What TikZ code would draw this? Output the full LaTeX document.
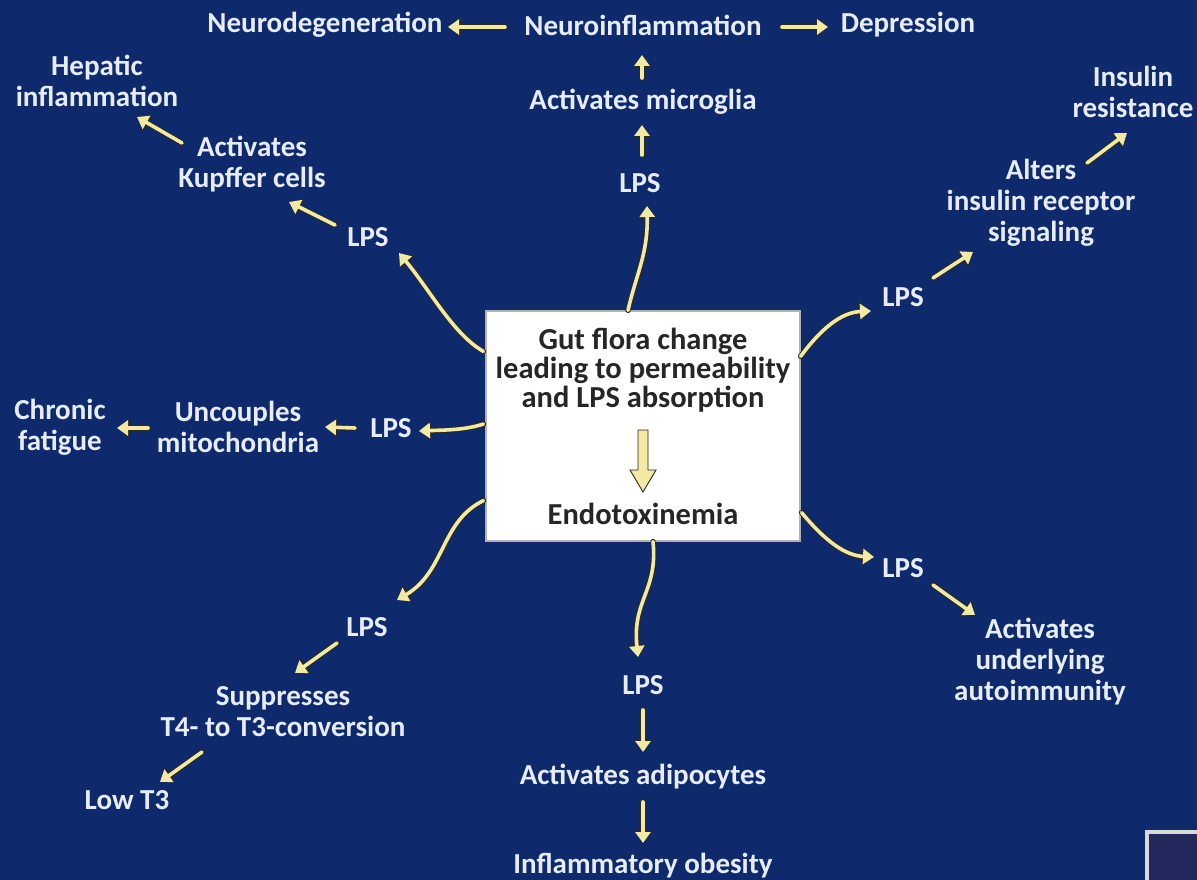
\documentclass[tikz,border=0pt]{standalone}
\usepackage{fontspec}
\setmainfont{Carlito}
\usetikzlibrary{arrows.meta,calc}

\definecolor{bgblue}{RGB}{15,42,108}
\definecolor{lbltext}{RGB}{230,237,248}
\definecolor{arrowfill}{RGB}{242,234,162}
\definecolor{arrowedge}{RGB}{45,42,30}
\definecolor{cornerfill}{RGB}{34,40,92}

\tikzset{
  lbl/.style={text=lbltext, font=\fontsize{29}{31}\selectfont\bfseries, align=center, inner sep=1pt},
  boxtext/.style={text=black!85, font=\fontsize{30.5}{29}\selectfont\bfseries, align=center, inner sep=1pt},
  flow/.style={draw=arrowfill, line width=3.6pt, line cap=round,
    -{Triangle[length=11pt,width=15pt]},
    preaction={draw=arrowedge, line width=5.4pt, line cap=round,
      -{Triangle[length=12.5pt,width=18pt]}}},
  mainbox/.style={draw=black!30, line width=1.2pt, fill=white,
    minimum width=314pt, minimum height=230pt, inner sep=0pt}
}

\begin{document}
\begin{tikzpicture}[x=1pt,y=-1pt]
  % canvas
  \fill[bgblue] (0,0) rectangle (1197,880);
  \useasboundingbox (0,0) rectangle (1197,880);
  \draw[draw=white!85!black, fill=cornerfill, line width=4pt] (1147,832) rectangle (1215,900);

  % central box
  \node[mainbox] (box) at (643,426) {};
  \node[boxtext] (gut) at (643,370) {Gut flora change\\leading to permeability\\and LPS absorption};
  \node[boxtext] (endo) at (643,514) {Endotoxinemia};
  \draw[draw=arrowedge, fill=arrowfill, line width=0.9pt, line join=miter]
    ($(gut)+(-5,60)$) -- ($(gut)+(5,60)$) -- ($(gut)+(5,100)$) -- ($(gut)+(13,100)$)
    -- ($(gut)+(0,122)$) -- ($(gut)+(-13,100)$) -- ($(gut)+(-5,100)$) -- cycle;

  % labels
  \node[lbl] (neurodeg) at (325,25) {Neurodegeneration};
  \node[lbl] (neuroinf) at (643,25) {Neuroinflammation};
  \node[lbl] (depr) at (908,25) {Depression};
  \node[lbl] (micro) at (643,102) {Activates microglia};
  \node[lbl] (lpsN) at (640,183) {LPS};

  \node[lbl] (hep) at (97,81) {Hepatic\\inflammation};
  \node[lbl] (kup) at (252,164) {Activates\\Kupffer cells};
  \node[lbl] (lpsNW) at (368,237) {LPS};

  \node[lbl] (chronic) at (60,427) {Chronic\\fatigue};
  \node[lbl] (uncoup) at (238,427) {Uncouples\\mitochondria};
  \node[lbl] (lpsW) at (391,428) {LPS};

  \node[lbl] (lpsSW) at (367,627) {LPS};
  \node[lbl] (supp) at (283,712) {Suppresses\\T4- to T3-conversion};
  \node[lbl] (lowt) at (127,800) {Low T3};

  \node[lbl] (lpsS) at (643,685) {LPS};
  \node[lbl] (adipo) at (643,777) {Activates adipocytes};
  \node[lbl] (obes) at (643,866) {Inflammatory obesity};

  \node[lbl] (lpsSE) at (903,568) {LPS};
  \node[lbl] (auto) at (1040,662) {Activates\\underlying\\autoimmunity};

  \node[lbl] (lpsNE) at (903,297) {LPS};
  \node[lbl] (alters) at (1041,203) {Alters\\insulin receptor\\signaling};
  \node[lbl] (insul) at (1133,92) {Insulin\\resistance};

  % top chain
  \draw[flow] ($(neuroinf)+(-138,2)$) -- ($(neurodeg)+(123,2)$);
  \draw[flow] ($(neuroinf)+(139,2)$) -- ($(depr)+(-80,2)$);
  \draw[flow] ($(micro)+(-1,-24)$) -- ($(neuroinf)+(-1,30)$);
  \draw[flow] ($(lpsN)+(2,-28)$) -- ($(micro)+(-1,23)$);
  \draw[flow] ($(box.north)+(-15,0)$) .. controls ($(box.north)+(-7,-36)$) and ($(box.north)+(5,-56)$) .. ($(lpsN)+(7,23)$);

  % upper left chain
  \draw[flow] ($(box.north west)+(-2,41)$) .. controls ($(box.north west)+(-32,24)$) and ($(box.north west)+(-56,-21)$) .. ($(lpsNW)+(31,16)$);
  \draw[flow] ($(lpsNW)+(-33,-12)$) -- ($(kup)+(37,38)$);
  \draw[flow] ($(kup)+(-70,-21)$) -- ($(hep)+(40,36)$);

  % left chain
  \draw[flow] ($(box.west)+(-2,-2)$) .. controls ($(box.west)+(-20,4)$) and ($(box.west)+(-40,4)$) .. ($(lpsW)+(28,3)$);
  \draw[flow] ($(lpsW)+(-36,0)$) -- ($(uncoup)+(87,0)$);
  \draw[flow] ($(uncoup)+(-90,1)$) -- ($(chronic)+(57,1)$);

  % lower left chain
  \draw[flow] ($(box.south west)+(-2,-41)$) .. controls ($(box.south west)+(-45,-20)$) and ($(box.south west)+(-40,30)$) .. ($(lpsSW)+(30,-27)$);
  \draw[flow] ($(lpsSW)+(-30,16)$) -- ($(supp)+(12,-39)$);
  \draw[flow] ($(supp)+(-81,40)$) -- ($(lowt)+(33,-18)$);

  % bottom chain
  \draw[flow] ($(box.south)+(10,0)$) .. controls ($(box.south)+(15,50)$) and ($(box.south)+(-11,58)$) .. ($(lpsS)+(-5,-28)$);
  \draw[flow] ($(lpsS)+(0,25)$) -- ($(adipo)+(0,-25)$);
  \draw[flow] ($(adipo)+(0,25)$) -- ($(obes)+(0,-23)$);

  % lower right chain
  \draw[flow] ($(box.south east)+(1,-29)$) .. controls ($(box.south east)+(25,0)$) and ($(box.south east)+(45,14)$) .. ($(lpsSE)+(-29,-11)$);
  \draw[flow] ($(lpsSE)+(30,17)$) -- ($(auto)+(-65,-47)$);

  % upper right chain
  \draw[flow] ($(box.north east)+(0,46)$) .. controls ($(box.north east)+(20,19)$) and ($(box.north east)+(40,2)$) .. ($(lpsNE)+(-32,14)$);
  \draw[flow] ($(lpsNE)+(30,-19)$) -- ($(alters)+(-68,49)$);
  \draw[flow] ($(alters)+(46,-40)$) -- ($(insul)+(-6,41)$);
\end{tikzpicture}
\end{document}
